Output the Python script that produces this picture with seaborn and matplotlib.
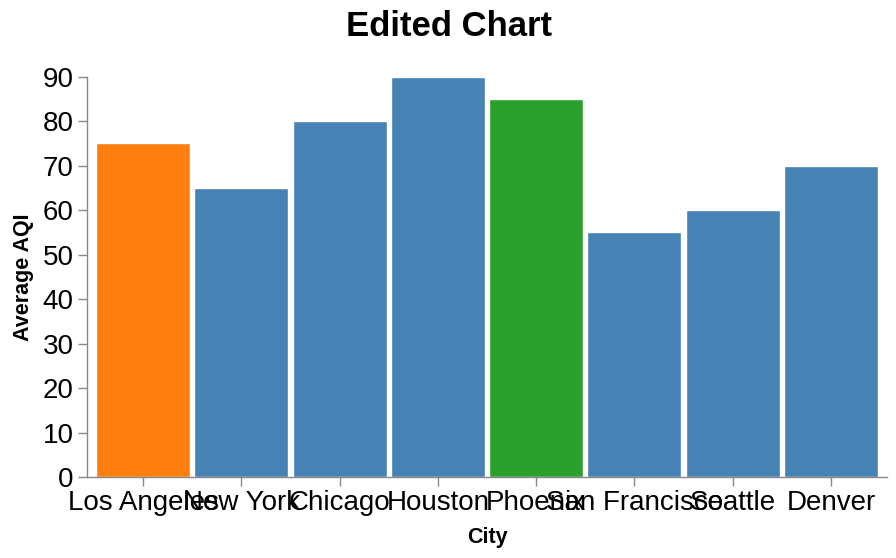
import matplotlib
matplotlib.use("Agg")
import matplotlib.pyplot as plt
import seaborn as sns
import pandas as pd

# Data
cities = ["Los Angeles", "New York", "Chicago", "Houston", "Phoenix",
          "San Francisco", "Seattle", "Denver"]
aqi = [75, 65, 80, 90, 85, 55, 60, 70]
bar_colors = ["#ff7f0e", "#4682b4", "#4682b4", "#4682b4", "#2ca02c",
              "#4682b4", "#4682b4", "#4682b4"]
y_ticks = [0, 10, 20, 30, 40, 50, 60, 70, 80, 90]

df = pd.DataFrame({"City": cities, "Average AQI": aqi})

sns.set_style("white")
plt.rcParams["font.family"] = ["Liberation Sans", "DejaVu Sans"]
plt.rcParams["text.color"] = "black"
plt.rcParams["axes.labelcolor"] = "black"

W, H = 896, 558
fig = plt.figure(figsize=(W / 100, H / 100), dpi=100)
ax = fig.add_axes([87 / W, (H - 477) / H, 800 / W, (477 - 76.7) / H])

sns.barplot(data=df, x="City", y="Average AQI", hue="City",
            palette=bar_colors, width=0.955, legend=False, ax=ax,
            saturation=1)

ax.set_xlim(-0.57, 7.57)
ax.set_ylim(0, 90)
ax.set_yticks(y_ticks)

axis_color = "#888888"
for side in ["top", "right"]:
    ax.spines[side].set_visible(False)
for side in ["left", "bottom"]:
    ax.spines[side].set_color(axis_color)
    ax.spines[side].set_linewidth(1)
ax.tick_params(axis="both", colors=axis_color, labelcolor="black",
               length=6.5, width=1, labelsize=20, direction="out", pad=3,
               bottom=True, left=True)

ax.set_xlabel("")
ax.set_ylabel("")
fig.text(487 / W, 1 - 538 / H, "City", fontsize=15.5, fontweight="bold",
         ha="center", va="center")
fig.text(24 / W, 1 - 277 / H, "Average AQI", fontsize=15.5,
         fontweight="bold", ha="center", va="center", rotation=90)
fig.text(449 / W, 1 - 26 / H, "Edited Chart", fontsize=25,
         fontweight="bold", ha="center", va="center")

fig.savefig("out.png", dpi=100)
